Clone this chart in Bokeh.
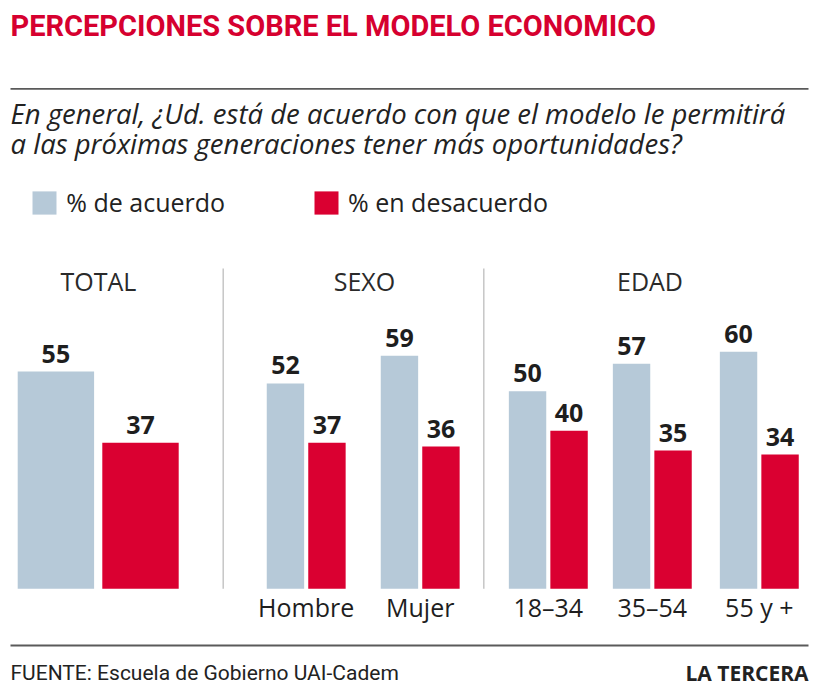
from bokeh.plotting import figure
from bokeh.models import Range1d, Label, Legend, LegendItem, ColumnDataSource
from bokeh.core.properties import value
from bokeh.embed import file_html
from bokeh.resources import INLINE

# ---------------- data ----------------
title_text = "PERCEPCIONES SOBRE EL MODELO ECONOMICO"
question_lines = ["En general, ¿Ud. está de acuerdo con que el modelo le permitirá",
                  "a las próximas generaciones tener más oportunidades?"]
series_names = ["% de acuerdo", "% en desacuerdo"]
group_names = ["TOTAL", "SEXO", "EDAD"]
categories = ["Total", "Hombre", "Mujer", "18–34", "35–54", "55 y +"]
acuerdo = [55, 52, 59, 50, 57, 60]
desacuerdo = [37, 37, 36, 40, 35, 34]
source_text = "FUENTE: Escuela de Gobierno UAI-Cadem"
brand_text = "LA TERCERA"

# ---------------- layout (reference pixels) ----------------
W, H = 840, 691
BASE = 588.3          # baseline pixel row
K = 3.95              # pixels per percentage point
SHIFT = 0.4           # baseline correction (em) for the svg text placement
def yv(ref_y):
    return (BASE - ref_y) / K
def ty(baseline, fs):
    return yv(baseline - SHIFT * fs)

pair_centers = [97.7, 305.7, 419.7, 547.8, 651.8, 758.8]
bar_widths = [76.4, 37.4, 37.4, 37.4, 37.4, 37.4]
half_steps = [42.3, 20.75, 20.75, 20.75, 20.75, 20.75]
group_x = [98, 364, 649.5]
sep_x = [222.7, 483.3]

BLUE = "#b6c9d8"
RED = "#da0031"
TITLE_RED = "#d6002f"
DARK = "#1e1e1e"
VFS = 25
LABEL_GAP = (8 + SHIFT * VFS) / K

p = figure(width=W, height=H, x_range=Range1d(0, W), y_range=Range1d(yv(H), yv(0)),
           output_backend="svg", toolbar_location=None, min_border=0,
           x_axis_type=None, y_axis_type=None)
p.outline_line_color = None
p.background_fill_color = "white"
p.border_fill_color = "white"

xa = [c - h for c, h in zip(pair_centers, half_steps)]
xd = [c + h for c, h in zip(pair_centers, half_steps)]
src = ColumnDataSource(dict(cat=categories, xa=xa, xd=xd, w=bar_widths,
                            acuerdo=acuerdo, desacuerdo=desacuerdo,
                            ya=[v + LABEL_GAP for v in acuerdo],
                            yd=[v + LABEL_GAP for v in desacuerdo],
                            la=[str(v) for v in acuerdo], ld=[str(v) for v in desacuerdo]))

r_a = p.vbar(x="xa", top="acuerdo", bottom=0, width="w", source=src, color=BLUE, line_color=None)
r_d = p.vbar(x="xd", top="desacuerdo", bottom=0, width="w", source=src, color=RED, line_color=None)

for col, ycol, lab in (("xa", "ya", "la"), ("xd", "yd", "ld")):
    p.text(x=col, y=ycol, text=lab, source=src, text_align="center", text_baseline="alphabetic",
           text_font=value("Open Sans"), text_font_style="bold",
           text_font_size=f"{VFS}px", text_color=DARK)

# category labels
cat_src = ColumnDataSource(dict(x=pair_centers[1:], t=categories[1:]))
p.text(x="x", y=ty(616, 25), text="t", source=cat_src, text_align="center", text_baseline="alphabetic",
       text_font=value("Open Sans"), text_font_size="25px", text_color=DARK)

# group headers
grp_src = ColumnDataSource(dict(x=group_x, t=group_names))
p.text(x="x", y=ty(290, 25), text="t", source=grp_src, text_align="center", text_baseline="alphabetic",
       text_font=value("Open Sans"), text_font_size="25px", text_color="#2a2a2a")

# separators
p.segment(x0=sep_x, x1=sep_x, y0=[yv(268)] * 2, y1=[0] * 2, line_color="#c6c6c6", line_width=1.5)

# horizontal rules
p.segment(x0=[10, 10], x1=[808, 808], y0=[yv(88.3), yv(645)], y1=[yv(88.3), yv(645)],
          line_color="#5a5a5a", line_width=1.8)

# title
p.add_layout(Label(x=10, y=ty(37, 29), text=title_text, text_font="Roboto",
                   text_font_style="bold", text_font_size="29px", text_color=TITLE_RED,
                   text_baseline="alphabetic"))
# question
for i, line in enumerate(question_lines):
    p.add_layout(Label(x=10, y=ty(124 + 30 * i, 27.5), text=line, text_font="Open Sans",
                       text_font_style="italic", text_font_size="27.5px", text_color="#222222",
                       text_baseline="alphabetic"))
# footer
p.add_layout(Label(x=10, y=ty(681, 21), text=source_text, text_font="Roboto",
                   text_font_size="21px", text_color="#222222", text_baseline="alphabetic"))
p.add_layout(Label(x=808, y=ty(681, 21), text=brand_text, text_font="Open Sans",
                   text_font_style="bold", text_font_size="21px", text_color="#222222",
                   text_align="right", text_baseline="alphabetic"))

# legend
legend = Legend(items=[LegendItem(label=series_names[0], renderers=[r_a]),
                       LegendItem(label=series_names[1], renderers=[r_d])],
                orientation="horizontal", location=(29.3, H - 219.3),
                glyph_width=30, glyph_height=29, label_standoff=7, spacing=86,
                padding=0, margin=0, border_line_color=None, background_fill_alpha=0,
                label_text_font="Open Sans", label_text_font_size="25px",
                label_text_color="#222222", label_height=29)
p.add_layout(legend, "center")

open("out.html", "w").write(file_html(p, INLINE))
